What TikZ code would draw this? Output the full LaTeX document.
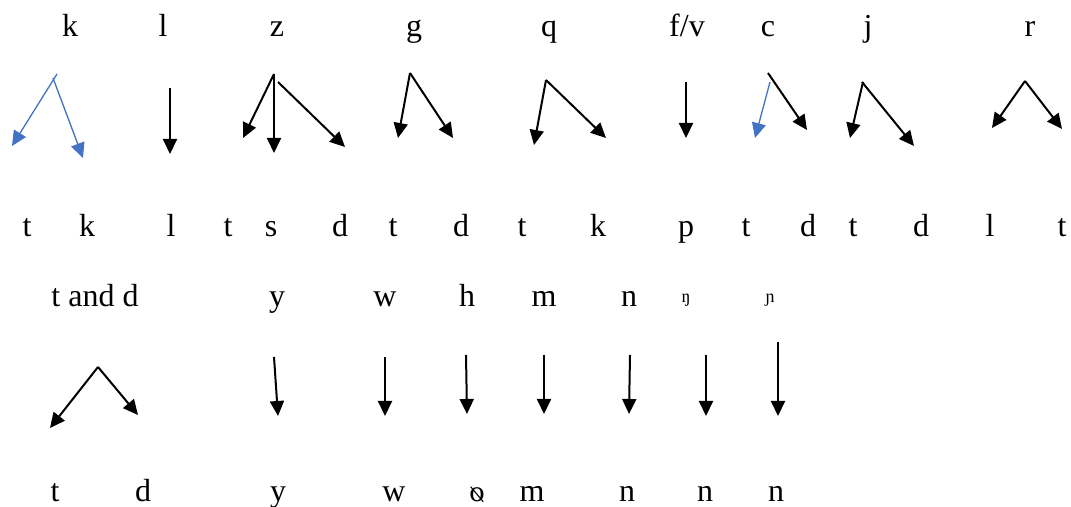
\documentclass[tikz,border=0pt]{standalone}
\usepackage{fontspec}
\setmainfont{Liberation Serif}
\newfontfamily\slashfont{DejaVu Serif}
\usepackage{graphicx}
\usetikzlibrary{arrows.meta}
\definecolor{wordblue}{RGB}{68,114,196}
\tikzset{
  lbl/.style={anchor=base,inner sep=0pt,font=\fontsize{16}{19}\selectfont},
  tinylbl/.style={anchor=base,inner sep=0pt,font=\fontsize{9}{11}\selectfont},
  arr/.style={line width=1pt,-{Triangle[length=7.5pt,width=7pt]}},
  bluearr/.style={arr,line width=0.65pt,wordblue},
}

\begin{document}
\begin{tikzpicture}[x=0.5pt,y=-0.5pt]
  \useasboundingbox (0,0) rectangle (1071,507);

  % sources
  \foreach \nm/\xx/\tx in {k/70/k,l/163/l,z/277/z,g/414/g,q/549/q,fv/687/{f/v},c/768/c,j/868/j,r/1030/r}
    \node[lbl] (src-\nm) at (\xx,37) {\tx};

  \foreach \nm/\xx/\tx in {1/27/t,2/87/k,3/171/l,4/228/t,5/271/s,6/340/d,7/393/t,8/461/d,9/522/t,
                           10/598/k,11/686/p,12/746/t,13/808/d,14/853/t,15/921/d,16/990/l,17/1062/t}
    \node[lbl] (out-\nm) at (\xx,237) {\tx};

  \foreach \nm/\xa/\ya/\xb/\yb/\st in {ka/57/74/12/146/bluearr,kb/53/78/83/158/bluearr,
      l/170/88/170/154/arr,
      za/274/74/243/138/arr,zb/274/74/274/153/arr,zc/278/82/345/147/arr,
      ga/410/73/398/138/arr,gb/410/73/453/138/arr,
      qa/546/80/534/145/arr,qb/546/80/606/138/arr,
      fv/686/82/686/138/arr,
      ca/770/82/755/138/bluearr,cb/768/73/807/130/arr,
      ja/863/82/850/138/arr,jb/862/82/914/146/arr,
      ra/1025/81/992/128/arr,rb/1025/81/1062/129/arr}
  {
    \coordinate (\nm-s) at (\xa,\ya);
    \coordinate (\nm-e) at (\xb,\yb);
    \draw[\st] (\nm-s) -- (\nm-e);
  }

  % second block
  \node[lbl] (src-td) at (95,307) {t and d};
  \foreach \nm/\xx/\tx in {y/277/y,w/385/w,h/467/h,m/544/m,n/629/n}
    \node[lbl] (src-\nm) at (\xx,307) {\tx};
  \node[tinylbl] (src-ng) at (686,303) {ŋ};
  \node[tinylbl] (src-ny) at (770,303) {ɲ};

  \foreach \nm/\xx/\tx in {1/55/t,2/143/d,3/278/y,4/394/w,5/477/{\reflectbox{\slashfont\fontsize{13}{15}\selectfont ø}},6/532/m,7/627/n,8/705/n,9/776/n}
    \node[lbl] (res-\nm) at (\xx,502) {\tx};

  \foreach \nm/\xa/\ya/\xb/\yb in {tda/98/367/50/428,tdb/98/367/138/415,
      y/274/357/278/416,w/385/357/385/416,h/466/355/467/414,m/544/355/544/414,
      n/630/355/629/414,ng/706/355/706/416,ny/778/342/778/416}
  {
    \coordinate (\nm-s) at (\xa,\ya);
    \coordinate (\nm-e) at (\xb,\yb);
    \draw[arr] (\nm-s) -- (\nm-e);
  }
\end{tikzpicture}
\end{document}
